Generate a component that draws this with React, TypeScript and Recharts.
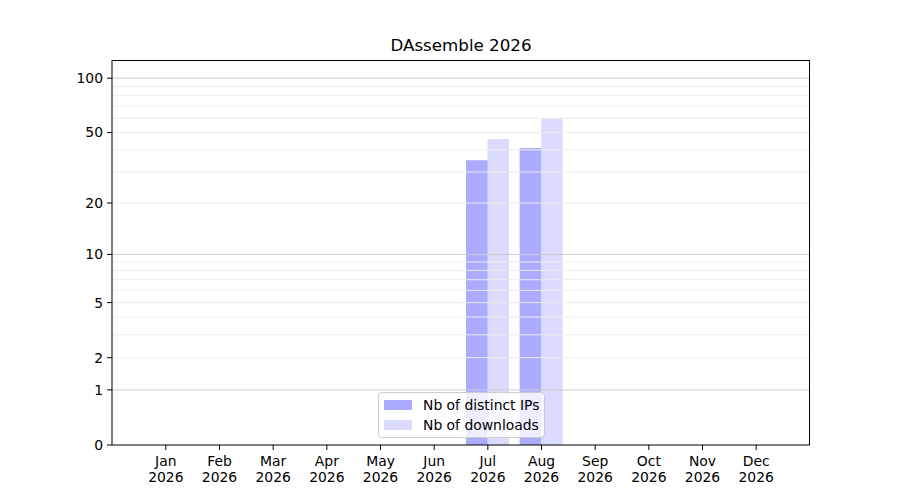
import React from 'react'
import { Bar, BarChart, ReferenceLine, XAxis, YAxis } from 'recharts'

const months = ['Jan', 'Feb', 'Mar', 'Apr', 'May', 'Jun', 'Jul', 'Aug', 'Sep', 'Oct', 'Nov', 'Dec']
const year = '2026'
const distinctIps = [0, 0, 0, 0, 0, 0, 35, 41, 0, 0, 0, 0]
const downloads = [0, 0, 0, 0, 0, 0, 46, 60, 0, 0, 0, 0]
const yTicks = [0, 1, 2, 5, 10, 20, 50, 100]
const majorGrid = [1, 10, 100]
const minorGrid = [2, 3, 4, 5, 6, 7, 8, 9, 20, 30, 40, 50, 60, 70, 80, 90]

const series = [
  { key: 'ips', name: 'Nb of distinct IPs', opacity: 0.33 },
  { key: 'downloads', name: 'Nb of downloads', opacity: 0.14 },
]

const data = months.map((m, i) => ({
  month: m,
  ips: distinctIps[i],
  downloads: downloads[i],
}))

const FONT = '"DejaVu Sans", sans-serif'
const FS = 13.9

// two-line month / year tick like matplotlib
function MonthTick({ x, y, payload }: any) {
  return (
    <text x={x} y={y} textAnchor="middle" fontSize={FS} fill="#000" fontFamily={FONT}>
      <tspan x={x} dy={13}>{payload.value}</tspan>
      <tspan x={x} dy={15.5}>{year}</tspan>
    </text>
  )
}

export default function App() {
  return (
    <div style={{ position: 'absolute', left: 0, top: 0, width: 900, height: 500, background: '#fff', fontFamily: FONT }}>
      <div
        style={{
          position: 'absolute',
          left: 112,
          width: 698,
          top: 35,
          textAlign: 'center',
          fontSize: 16.7,
          lineHeight: '20px',
          color: '#000',
        }}
      >
        DAssemble 2026
      </div>
      <BarChart
        width={900}
        height={500}
        data={data}
        margin={{ top: 60, right: 90, bottom: 10, left: 62 }}
        barGap={0}
        style={{ fontFamily: FONT }}
      >
        {minorGrid.map((v) => (
          <ReferenceLine key={'m' + v} y={v} stroke="#ebebeb" strokeWidth={1} />
        ))}
        {majorGrid.map((v) => (
          <ReferenceLine key={'M' + v} y={v} stroke="#cccccc" strokeWidth={1} />
        ))}
        <XAxis
          dataKey="month"
          padding={{ left: 27, right: 27 }}
          height={45}
          tickSize={5}
          tickMargin={3}
          interval={0}
          axisLine={{ stroke: '#000' }}
          tickLine={{ stroke: '#000' }}
          tick={<MonthTick />}
        />
        <YAxis
          scale="symlog"
          domain={[0, 126]}
          ticks={yTicks}
          interval={0}
          width={50}
          tickSize={5}
          tickMargin={4}
          allowDataOverflow
          axisLine={{ stroke: '#000' }}
          tickLine={{ stroke: '#000' }}
          tick={{ fill: '#000', fontSize: FS, fontFamily: FONT }}
        />
        {series.map((s) => (
          <Bar
            key={s.key}
            dataKey={s.key}
            name={s.name}
            barSize={21.5}
            fill="#0000ff"
            fillOpacity={s.opacity}
            isAnimationActive={false}
          />
        ))}
      </BarChart>
      {/* plot frame (top / right spines) */}
      <div
        style={{
          position: 'absolute',
          left: 112,
          top: 60,
          width: 698,
          height: 385,
          boxSizing: 'border-box',
          borderTop: '1px solid #000',
          borderRight: '1px solid #000',
          pointerEvents: 'none',
        }}
      />
      <div
        style={{
          position: 'absolute',
          left: 378,
          top: 392,
          width: 165,
          height: 44,
          background: 'rgba(255,255,255,0.8)',
          border: '1px solid #cccccc',
          borderRadius: 4,
        }}
      >
        {series.map((s, i) => (
          <div key={s.key} style={{ position: 'absolute', left: 5, top: 6 + i * 20, height: 12, display: 'flex', alignItems: 'center' }}>
            <div style={{ width: 28, height: 10, background: `rgba(0,0,255,${s.opacity})` }} />
            <span style={{ marginLeft: 11, fontSize: FS, lineHeight: '12px', color: '#000', whiteSpace: 'nowrap' }}>{s.name}</span>
          </div>
        ))}
      </div>
    </div>
  )
}
